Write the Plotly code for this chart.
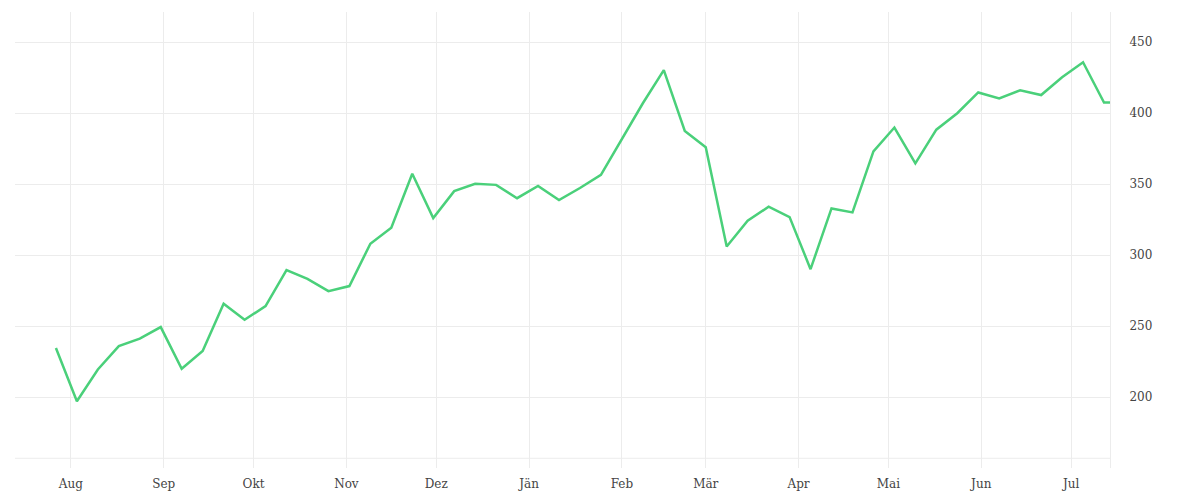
import plotly.graph_objects as go

dates = [
    "2022-07-27", "2022-08-03", "2022-08-10", "2022-08-17", "2022-08-24", "2022-08-31",
    "2022-09-07", "2022-09-14", "2022-09-21", "2022-09-28", "2022-10-05", "2022-10-12",
    "2022-10-19", "2022-10-26", "2022-11-02", "2022-11-09", "2022-11-16", "2022-11-23",
    "2022-11-30", "2022-12-07", "2022-12-14", "2022-12-21", "2022-12-28", "2023-01-04",
    "2023-01-11", "2023-01-18", "2023-01-25", "2023-02-01", "2023-02-08", "2023-02-15",
    "2023-02-22", "2023-03-01", "2023-03-08", "2023-03-15", "2023-03-22", "2023-03-29",
    "2023-04-05", "2023-04-12", "2023-04-19", "2023-04-26", "2023-05-03", "2023-05-10",
    "2023-05-17", "2023-05-24", "2023-05-31", "2023-06-07", "2023-06-14", "2023-06-21",
    "2023-06-28", "2023-07-05", "2023-07-12", "2023-07-14",
]
values = [
    234.5, 197.0, 219.4, 235.9, 241.1, 249.3,
    219.9, 232.4, 265.7, 254.4, 264.1, 289.5,
    283.3, 274.6, 278.2, 308.0, 319.3, 357.3,
    326.1, 345.1, 350.2, 349.5, 340.1, 348.8,
    338.8, 347.3, 356.6, 381.5, 407.0, 430.3,
    387.5, 376.0, 306.1, 324.2, 334.1, 326.8,
    290.1, 332.9, 330.1, 373.1, 389.9, 364.6,
    388.4, 400.0, 414.6, 410.4, 416.1, 412.8,
    425.3, 435.9, 407.5, 407.5,
]
month_ticks = [
    "2022-08-01", "2022-09-01", "2022-10-01", "2022-11-01", "2022-12-01", "2023-01-01",
    "2023-02-01", "2023-03-01", "2023-04-01", "2023-05-01", "2023-06-01", "2023-07-01",
]
month_labels = ["Aug", "Sep", "Okt", "Nov", "Dez", "Jän", "Feb", "Mär", "Apr", "Mai", "Jun", "Jul"]
y_ticks = [200, 250, 300, 350, 400, 450]

GRID = "#ececec"
FONT = dict(family="DejaVu Serif", size=12, color="#444444")

fig = go.Figure(
    go.Scatter(
        x=dates, y=values, mode="lines",
        line=dict(color="#4ad07a", width=2.5),
        hoverinfo="x+y",
    )
)

fig.update_layout(
    width=1184, height=484,
    margin=dict(l=7, r=82, t=4, b=24),
    paper_bgcolor="white", plot_bgcolor="white",
    showlegend=False,
    font=FONT,
    xaxis=dict(
        type="date",
        range=["2022-07-13 08:00", "2023-07-14"],
        tickvals=month_ticks, ticktext=month_labels,
        showgrid=True, gridcolor=GRID, gridwidth=1,
        zeroline=False, showline=False, ticks="",
        ticklabelstandoff=7,
        tickfont=FONT,
        automargin=False,
    ),
    yaxis=dict(
        side="right",
        range=[150, 471.3],
        tickvals=y_ticks,
        showgrid=True, gridcolor=GRID, gridwidth=1,
        zeroline=False, showline=True, linecolor=GRID, linewidth=1,
        ticks="", ticklabelstandoff=16,
        tickfont=FONT,
        automargin=False,
    ),
    shapes=[
        dict(type="line", xref="paper", yref="paper", x0=0, x1=1, y0=0.0213, y1=0.0213,
             line=dict(color=GRID, width=1), layer="below"),
    ],
)

fig.write_html("out.html")
